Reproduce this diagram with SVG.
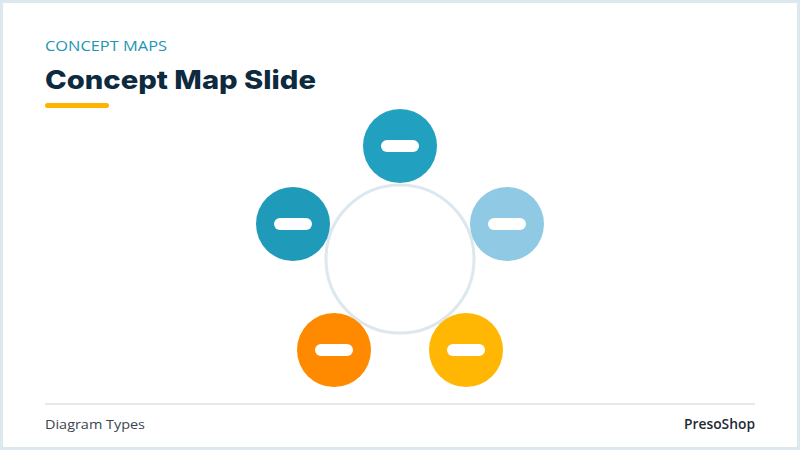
<svg xmlns="http://www.w3.org/2000/svg" width="800" height="450" viewBox="0 0 800 450">
<style>
.kicker{font-family:"Open Sans","Liberation Sans",sans-serif;font-size:15px;fill:#2196b3;}
.title{font-family:Inter,"Liberation Sans",sans-serif;font-size:26px;font-weight:800;fill:#0e2a3f;}
.foot{font-family:"Open Sans","Liberation Sans",sans-serif;font-size:13.5px;fill:#3a4550;}
.brand{font-family:"Open Sans","Liberation Sans",sans-serif;font-size:13.5px;font-weight:600;fill:#1e2a35;}
.pill{fill:#ffffff;}
</style>
<rect x="1.5" y="1.5" width="797" height="447" fill="#ffffff" stroke="#dbe8ee" stroke-width="3"/>
<text class="kicker" x="45" y="51" textLength="122" lengthAdjust="spacingAndGlyphs">CONCEPT MAPS</text>
<text class="title" x="45" y="89" textLength="271" lengthAdjust="spacingAndGlyphs">Concept Map Slide</text>
<rect x="45" y="103" width="64" height="5" rx="2.5" fill="#ffb400"/>
<g id="connectors"></g>
<g id="center"><circle cx="400" cy="259" r="74" fill="#ffffff" stroke="#dde8ee" stroke-width="3"/></g>
<g id="node-top"><circle cx="400" cy="146" r="37" fill="#21a0bf"/><rect class="pill" x="381" y="140" width="38" height="12" rx="6"/></g>
<g id="node-left"><circle cx="293" cy="224" r="37" fill="#1f9bb9"/><rect class="pill" x="274" y="218" width="38" height="12" rx="6"/></g>
<g id="node-right"><circle cx="507" cy="224" r="37" fill="#8fc9e4"/><rect class="pill" x="488" y="218" width="38" height="12" rx="6"/></g>
<g id="node-bottom-left"><circle cx="334" cy="350" r="37" fill="#ff8a00"/><rect class="pill" x="315" y="344" width="38" height="12" rx="6"/></g>
<g id="node-bottom-right"><circle cx="466" cy="350" r="37" fill="#ffb703"/><rect class="pill" x="447" y="344" width="38" height="12" rx="6"/></g>
<line x1="45" y1="404" x2="755" y2="404" stroke="#dde3e8" stroke-width="1.5"/>
<text class="foot" x="45" y="429" textLength="100" lengthAdjust="spacingAndGlyphs">Diagram Types</text>
<text class="brand" x="755" y="429" text-anchor="end" textLength="71" lengthAdjust="spacingAndGlyphs">PresoShop</text>
</svg>
